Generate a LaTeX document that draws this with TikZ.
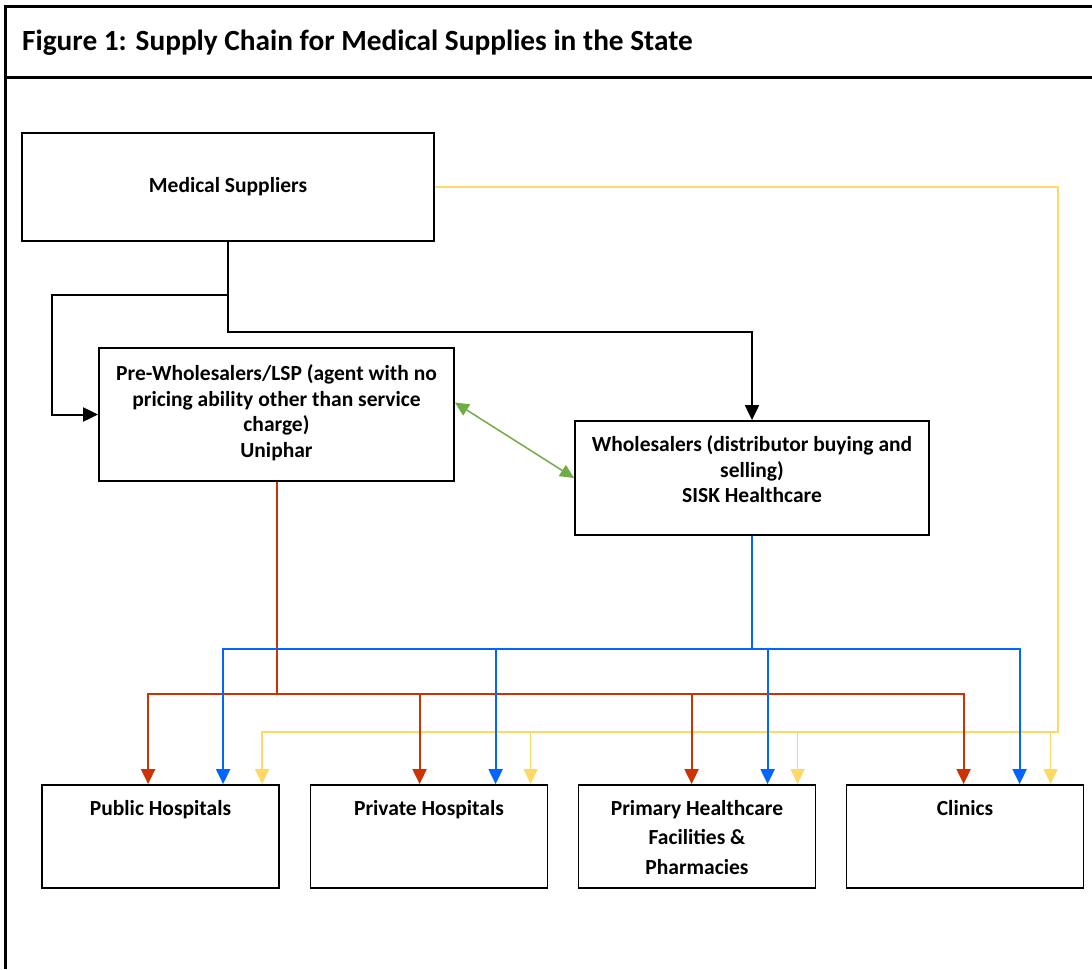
\documentclass[tikz,border=0pt]{standalone}
\usepackage{fontspec}
\setmainfont{Carlito}
\usetikzlibrary{arrows.meta,positioning,calc}
\definecolor{rdline}{HTML}{CC3300}
\definecolor{blline}{HTML}{0066FF}
\definecolor{ylline}{HTML}{FFD966}
\definecolor{grline}{HTML}{70AD47}
\newcommand\boxfont{\fontsize{21.5}{25.8}\selectfont\bfseries}

\begin{document}
\begin{tikzpicture}[x=1pt, y=-1pt,
  box/.style={draw, line width=1.8pt, inner sep=0pt, align=center,
              font=\boxfont},
  hbox/.style={box, minimum width=237pt, minimum height=103pt},
  txt/.style={anchor=north, inner sep=0pt, align=center, font=\boxfont},
  arr/.style={line width=2pt, -{Triangle[length=15pt,width=14pt]}},
  rdarr/.style={arr, rdline},
  blarr/.style={arr, blline},
  ylarr/.style={ylline, line width=1.5pt, -{Triangle[length=15pt,width=14pt]}},
  grarr/.style={grline, line width=1.5pt,
                {Triangle[length=14pt,width=13pt]}-{Triangle[length=14pt,width=13pt]}}
]
\useasboundingbox (0,0) rectangle (1092,969);
\draw[line width=3pt] (5,969) -- (5,6) -- (1092,6);
\draw[line width=3pt] (5,77) -- (1092,77);
\node[anchor=west, inner sep=0pt, font=\fontsize{29.3}{35}\selectfont\bfseries]
  (title) at (22,43) {Figure 1: Supply Chain for Medical Supplies in the State};

\node[box, minimum width=412pt, minimum height=108pt] (ms) at (228,187)
  {Medical Suppliers};
\node[box, minimum width=355pt, minimum height=133pt] (pw) at (276.5,414.5) {};
\node[txt] (pwt) at ([yshift=-17pt]pw.north)
  {Pre-Wholesalers/LSP (agent with no\\pricing ability other than service\\charge)\\Uniphar};
\node[box, minimum width=354pt, minimum height=114pt] (ws) at (752,478) {};
\node[txt] (wst) at ([yshift=-15pt]ws.north)
  {Wholesalers (distributor buying and\\selling)\\SISK Healthcare};

\node[hbox] (pub) at (160.5,836.5) {};
\node[hbox] (prv) at (429,836.5) {};
\node[hbox] (prim) at (697,836.5) {};
\node[hbox] (cli) at (965,836.5) {};
\node[txt] (pubt) at ([yshift=-16pt]pub.north) {Public Hospitals};
\node[txt] (prvt) at ([yshift=-16pt]prv.north) {Private Hospitals};
\node[txt, font=\fontsize{21.5}{29.5}\selectfont\bfseries] (primt)
  at ([yshift=-16pt]prim.north) {Primary Healthcare\\Facilities \&\\Pharmacies};
\node[txt] (clit) at ([yshift=-16pt]cli.north) {Clinics};

\coordinate (bend) at (52,295);
\coordinate (rj) at (pw.south |- 0,694);
\coordinate (bj) at (ws.south |- 0,649);
\coordinate (yc) at (1058,732);

\draw[arr] (ms.south) |- (bend) |- (pw.west);
\draw[arr] (ms.south) -- ++(0,90) -| (ws.north);
\draw[grarr] ([yshift=12pt]pw.east) -- (ws.west);

\draw[ylarr] (ms.east) -| (yc) -| ([xshift=221pt]pub.north west);
\foreach \b/\dx in {prv/221, prim/220, cli/205}
  \draw[ylarr] ([xshift=\dx pt]\b.north west |- yc) -- ([xshift=\dx pt]\b.north west);

\draw[rdarr] (pw.south) -- (rj) -| ([xshift=107pt]pub.north west);
\draw[rdarr] (rj) -| ([xshift=118pt]cli.north west);
\foreach \b/\dx in {prv/110, prim/114}
  \draw[rdarr] ([xshift=\dx pt]\b.north west |- rj) -- ([xshift=\dx pt]\b.north west);

\draw[blarr] (ws.south) -- (bj) -| ([xshift=182pt]pub.north west);
\draw[blarr] (bj) -| ([xshift=174pt]cli.north west);
\foreach \b/\dx in {prv/186, prim/190}
  \draw[blarr] ([xshift=\dx pt]\b.north west |- bj) -- ([xshift=\dx pt]\b.north west);
\end{tikzpicture}
\end{document}
